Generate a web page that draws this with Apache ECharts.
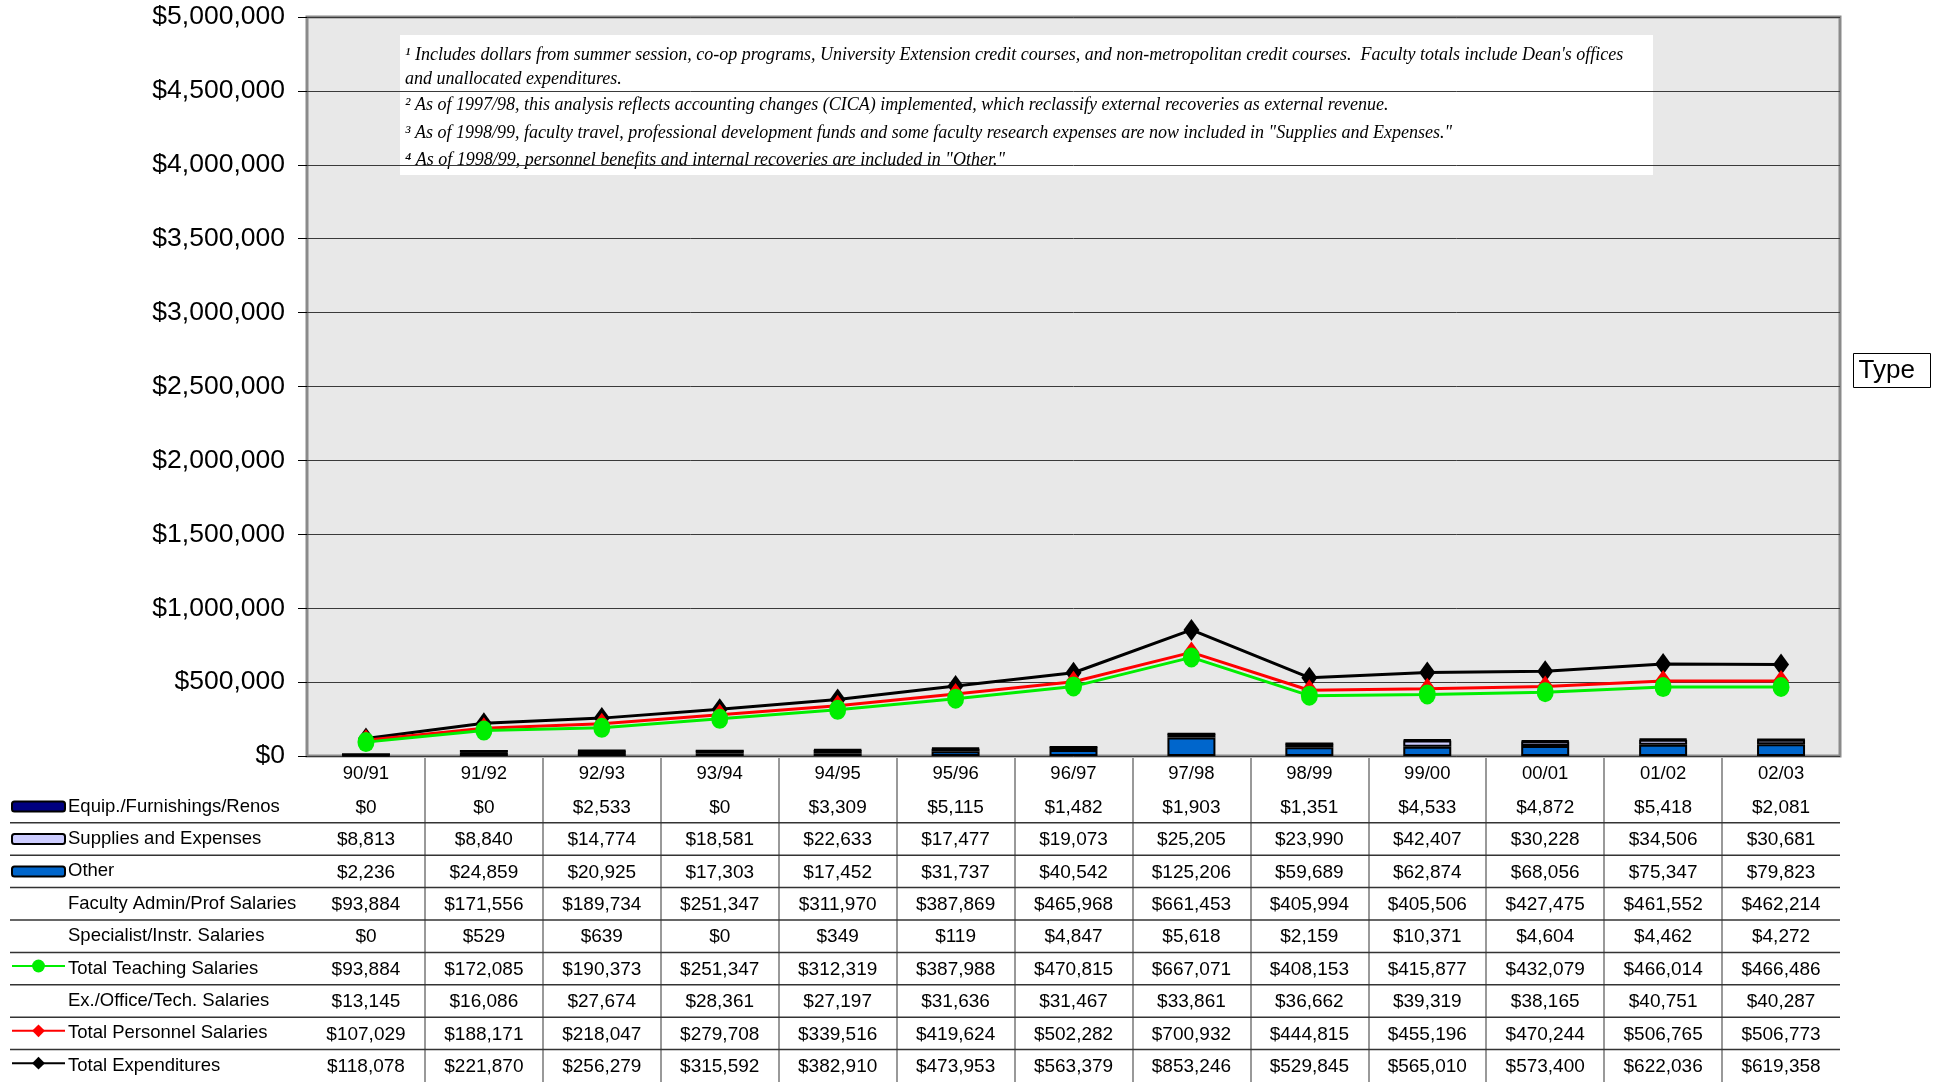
<!DOCTYPE html>
<html><head><meta charset="utf-8">
<script src="https://cdn.jsdelivr.net/npm/echarts@6/dist/echarts.min.js"></script>
<style>html,body{margin:0;padding:0;background:#fff}#c{width:1944px;height:1082px}</style>
</head><body><div id="c"></div>
<script>
// ---------- data ----------
const categories = ['90/91','91/92','92/93','93/94','94/95','95/96','96/97','97/98','98/99','99/00','00/01','01/02','02/03'];
const equip          = [0, 0, 2533, 0, 3309, 5115, 1482, 1903, 1351, 4533, 4872, 5418, 2081];
const supplies       = [8813, 8840, 14774, 18581, 22633, 17477, 19073, 25205, 23990, 42407, 30228, 34506, 30681];
const other          = [2236, 24859, 20925, 17303, 17452, 31737, 40542, 125206, 59689, 62874, 68056, 75347, 79823];
const facultyAdmin   = [93884, 171556, 189734, 251347, 311970, 387869, 465968, 661453, 405994, 405506, 427475, 461552, 462214];
const specialist     = [0, 529, 639, 0, 349, 119, 4847, 5618, 2159, 10371, 4604, 4462, 4272];
const totalTeaching  = [93884, 172085, 190373, 251347, 312319, 387988, 470815, 667071, 408153, 415877, 432079, 466014, 466486];
const exOffice       = [13145, 16086, 27674, 28361, 27197, 31636, 31467, 33861, 36662, 39319, 38165, 40751, 40287];
const totalPersonnel = [107029, 188171, 218047, 279708, 339516, 419624, 502282, 700932, 444815, 455196, 470244, 506765, 506773];
const totalExp       = [118078, 221870, 256279, 315592, 382910, 473953, 563379, 853246, 529845, 565010, 573400, 622036, 619358];

const rowNames = ['Equip./Furnishings/Renos','Supplies and Expenses','Other','Faculty Admin/Prof Salaries','Specialist/Instr. Salaries','Total Teaching Salaries','Ex./Office/Tech. Salaries','Total Personnel Salaries','Total Expenditures'];
const rowValues = [equip, supplies, other, facultyAdmin, specialist, totalTeaching, exOffice, totalPersonnel, totalExp];

const yMin = 0, yMax = 5000000, yStep = 500000;

const notes = [
  '\u00B9 Includes dollars from summer session, co-op programs, University Extension credit courses, and non-metropolitan credit courses.  Faculty totals include Dean\'s offices',
  'and unallocated expenditures.',
  '\u00B2 As of 1997/98, this analysis reflects accounting changes (CICA) implemented, which reclassify external recoveries as external revenue.',
  '\u00B3 As of 1998/99, faculty travel, professional development funds and some faculty research expenses are now included in "Supplies and Expenses."',
  '\u2074 As of 1998/99, personnel benefits and internal recoveries are included in "Other."'
];
const sideLabel = 'Type';

// ---------- layout / style ----------
const SANS = "'Liberation Sans', Arial, Helvetica, sans-serif";
const SERIF = "'Liberation Serif', 'Times New Roman', serif";
const GL = 307, GR = 104, GT = 17, PB = 756, H = 1082;
const TT = 758;
const ROWS = rowNames.length + 1;
const TABLE_H = H - TT;
const rowH = TABLE_H / ROWS;
const noteY = [20, 44.5, 70, 98.5, 125.5];
const money = v => '$' + Number(v).toLocaleString('en-US');

const chart = echarts.init(document.getElementById('c'), null, {renderer: 'canvas'});

const cellData = [];
rowValues.forEach((arr, r) => arr.forEach((v, i) => cellData.push([i, r + 1, v])));
const lineRows = [];
for (let r = 1; r < rowNames.length; r++) lineRows.push([0, r]);

const legendSpecs = [
  {name: 'Equip./Furnishings/Renos', kind: 'bar'},
  {name: 'Supplies and Expenses', kind: 'bar'},
  {name: 'Other', kind: 'bar'},
  {name: 'Total Teaching Salaries', kind: 'line'},
  {name: 'Total Personnel Salaries', kind: 'line'},
  {name: 'Total Expenditures', kind: 'line'}
];
const legends = legendSpecs.map(s => {
  const r = rowNames.indexOf(s.name) + 1;
  const ih = s.kind === 'bar' ? 10 : 16;
  return {
    data: [s.name], left: 11, top: TT + (r + 0.5) * rowH - ih / 2 - 1,
    itemWidth: 53, itemHeight: ih, padding: 0, itemGap: 0,
    selectedMode: false, formatter: () => '',
    textStyle: {fontSize: 1, lineHeight: 1}
  };
});

const barBase = {type: 'bar', stack: 'exp', barWidth: 48, xAxisIndex: 0, yAxisIndex: 0};

const option = {
  animation: false,
  backgroundColor: '#ffffff',
  grid: [
    {left: GL, right: GR, top: GT, height: PB - GT, show: true, backgroundColor: '#e8e8e8', borderColor: '#8a8a8a', borderWidth: 3},
    {left: GL, right: GR, top: TT, height: TABLE_H, show: false}
  ],
  xAxis: [
    {type: 'category', gridIndex: 0, data: categories, boundaryGap: true,
     axisLine: {show: false}, axisTick: {show: false},
     axisLabel: {interval: 0, margin: 8, fontSize: 18.5, color: '#000', fontFamily: SANS},
     splitLine: {show: false}},
    {type: 'category', gridIndex: 1, data: categories, boundaryGap: true,
     axisLine: {show: false}, axisTick: {show: false}, axisLabel: {show: false},
     splitLine: {show: true, interval: 0, showMinLine: false, showMaxLine: false, lineStyle: {color: '#777', width: 1.5}}}
  ],
  yAxis: [
    {type: 'value', gridIndex: 0, min: yMin, max: yMax, interval: yStep,
     axisLine: {show: false},
     axisTick: {show: true, length: 9, lineStyle: {color: '#000', width: 1}},
     axisLabel: {margin: 22, fontSize: 26.5, color: '#000', fontFamily: SANS, formatter: money, padding: [4, 0, 0, 0]},
     splitLine: {show: true, lineStyle: {color: '#3a3a3a', width: 1}}},
    {type: 'category', gridIndex: 1, data: [''].concat(rowNames), inverse: true,
     axisLine: {show: false}, axisTick: {show: false},
     axisLabel: {interval: 0, align: 'left', margin: GL - 68, fontSize: 18.5, color: '#000', fontFamily: SANS},
     splitLine: {show: false}}
  ],
  legend: legends,
  series: [
    Object.assign({}, barBase, {name: 'Other', data: other, itemStyle: {color: '#0066cc', borderColor: '#000', borderWidth: 2}}),
    Object.assign({}, barBase, {name: 'Supplies and Expenses', data: supplies, itemStyle: {color: '#ccccff', borderColor: '#000', borderWidth: 2}}),
    Object.assign({}, barBase, {name: 'Equip./Furnishings/Renos', data: equip, itemStyle: {color: '#000080', borderColor: '#000', borderWidth: 2}}),
    {type: 'line', name: 'Total Expenditures', data: totalExp, symbol: 'diamond', symbolSize: [16, 22],
     lineStyle: {color: '#000', width: 3}, itemStyle: {color: '#000'}},
    {type: 'line', name: 'Total Personnel Salaries', data: totalPersonnel, symbol: 'diamond', symbolSize: [16, 22],
     lineStyle: {color: '#ff0000', width: 3}, itemStyle: {color: '#ff0000'}},
    {type: 'line', name: 'Total Teaching Salaries', data: totalTeaching, symbol: 'circle', symbolSize: [17, 20],
     lineStyle: {color: '#00ee00', width: 3}, itemStyle: {color: '#00ee00'}},
    {type: 'custom', name: 'tableCells', xAxisIndex: 1, yAxisIndex: 1, data: cellData, encode: {x: 0, y: 1},
     silent: true,
     renderItem: (params, api) => {
       const p = api.coord([api.value(0), api.value(1)]);
       return {type: 'text', x: p[0], y: p[1] + 1,
         style: {text: money(api.value(2)), align: 'center', verticalAlign: 'middle', fontSize: 19, fontFamily: SANS, fill: '#000'}};
     }},
    {type: 'custom', name: 'tableRules', xAxisIndex: 1, yAxisIndex: 1, data: lineRows, encode: {x: 0, y: 1},
     silent: true,
     renderItem: (params, api) => {
       const c = api.coord([0, api.value(1)]);
       const bh = api.size([0, 1])[1];
       const y = c[1] + bh / 2;
       const cs = params.coordSys;
       return {type: 'line', shape: {x1: 10, y1: y, x2: cs.x + cs.width, y2: y},
         style: {stroke: '#333', lineWidth: 1.5}};
     }}
  ],
  graphic: [
    {type: 'group', left: 400, top: 35, children: [
      {type: 'rect', shape: {x: 0, y: 0, width: 1253, height: 140}, style: {fill: '#fff'}},
    ].concat(notes.map((t, k) => ({
      type: 'text', x: 5, y: noteY[k],
      style: {text: t, fontSize: 18, fontStyle: 'italic', fontFamily: SERIF, fill: '#000', verticalAlign: 'middle'}
    })))},
    {type: 'group', left: 1853, top: 353, children: [
      {type: 'rect', shape: {x: 0, y: 0, width: 77, height: 34}, style: {fill: '#fff', stroke: '#000', lineWidth: 1}},
      {type: 'text', x: 5, y: 17, style: {text: sideLabel, fontSize: 26, fontFamily: SANS, fill: '#000', verticalAlign: 'middle'}}
    ]}
  ]
};
chart.setOption(option);
</script>
</body></html>
